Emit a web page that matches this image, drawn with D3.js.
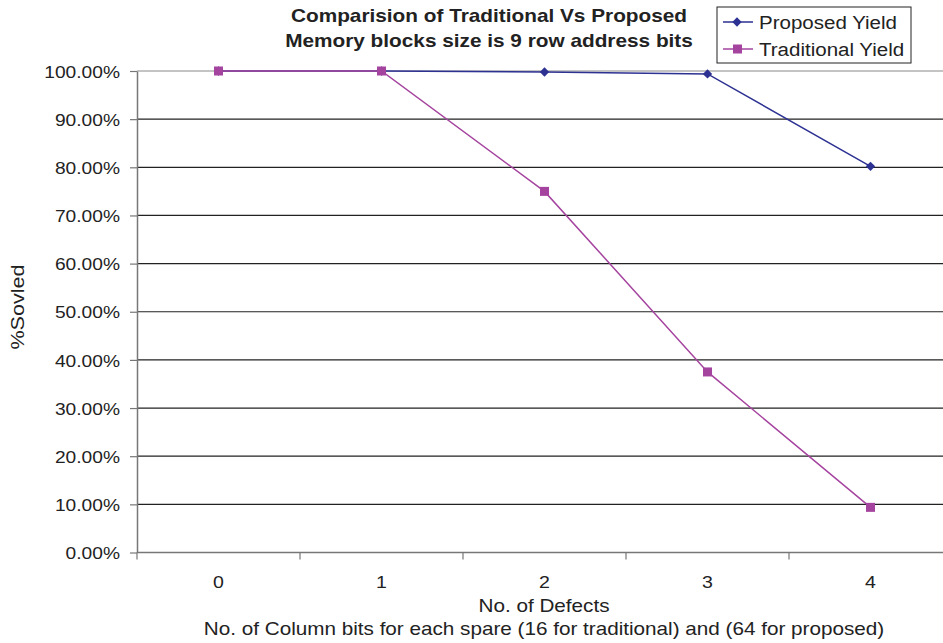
<!DOCTYPE html>
<html>
<head>
<meta charset="utf-8">
<script src="https://cdn.jsdelivr.net/npm/d3@7"></script>
<style>
  html, body { margin: 0; padding: 0; background: #fff; }
  svg { display: block; font-family: "Liberation Sans", Arial, sans-serif; }
</style>
</head>
<body>
<svg id="chart" width="943" height="643"></svg>
<script>
// Number of defects on the x axis
const categories = ["0", "1", "2", "3", "4"];
// Yield (fraction solved) for each scheme
const proposedYield = [1.0, 1.0, 0.998, 0.994, 0.802];
const traditionalYield = [1.0, 1.0, 0.75, 0.375, 0.09375];
const yTicks = [0, 0.1, 0.2, 0.3, 0.4, 0.5, 0.6, 0.7, 0.8, 0.9, 1.0];
const titleLines = ["Comparision of Traditional Vs Proposed", "Memory blocks size is 9 row address bits"];
const seriesNames = ["Proposed Yield", "Traditional Yield"];

const svg = d3.select("#chart");
const m = { left: 137, right: 952, top: 71, bottom: 552.5 };
const ink = "#222";
const SX = 1.15; // horizontal widening of the lettering

// place a text at (x,y), widened horizontally by sx
function label(parent, x, y, str, opts = {}) {
  return parent.append("text")
    .attr("transform", `translate(${x},${y}) scale(${opts.sx || SX},1)`)
    .attr("text-anchor", opts.anchor || "middle")
    .attr("font-size", opts.size || 18)
    .attr("font-weight", opts.weight || "normal")
    .attr("fill", ink).text(str);
}

const x = d3.scaleBand().domain(categories).range([m.left, m.right]);
const y = d3.scaleLinear().domain([0, 1]).range([m.bottom, m.top]);

const blue = "#2D3192";
const magenta = "#A5449F";

// horizontal gridlines
svg.append("g").selectAll("line").data(yTicks.filter(d => d > 0)).join("line")
  .attr("x1", m.left).attr("x2", m.right)
  .attr("y1", d => y(d)).attr("y2", d => y(d))
  .attr("stroke", d => d === 1 ? "#8a8a8a" : "#222").attr("stroke-width", 1.2);

// y axis
const yAxis = d3.axisLeft(y).tickValues(yTicks).tickSize(7).tickSizeOuter(0)
  .tickFormat(d => (d * 100).toFixed(2) + "%");
const gy = svg.append("g").attr("transform", `translate(${m.left},0)`).call(yAxis);
gy.select(".domain").attr("stroke", "#777").attr("stroke-width", 1.5);
gy.selectAll(".tick line").attr("stroke", "#777").attr("stroke-width", 1.2);
gy.selectAll(".tick text")
  .attr("x", 0).attr("dy", "0.36em")
  .attr("transform", "translate(-17,0) scale(1.13,1)")
  .attr("font-size", 17).attr("fill", ink)
  .attr("font-family", "Liberation Sans, Arial, sans-serif");

// x axis: ticks sit between categories
const gx = svg.append("g");
gx.append("line").attr("x1", m.left).attr("x2", m.right)
  .attr("y1", m.bottom).attr("y2", m.bottom)
  .attr("stroke", "#777").attr("stroke-width", 1.5);
const boundaries = categories.map(c => x(c)).concat([x(categories[categories.length - 1]) + x.bandwidth()]);
gx.selectAll("line.tk").data(boundaries).join("line").attr("class", "tk")
  .attr("x1", d => d).attr("x2", d => d)
  .attr("y1", m.bottom).attr("y2", m.bottom + 7)
  .attr("stroke", "#777").attr("stroke-width", 1.2);
categories.forEach(c => label(gx, x(c) + x.bandwidth() / 2, 588, c, { size: 17 }));

// axis titles
label(svg, 544, 612, "No. of Defects");
label(svg, 544, 635, "No. of Column bits for each spare (16 for traditional) and (64 for proposed)");
svg.append("text").attr("transform", "translate(24,307) rotate(-90) scale(1.2,1)")
  .attr("text-anchor", "middle").attr("font-size", 18).attr("fill", ink).text("%Sovled");

// title
titleLines.forEach((t, i) => label(svg, 489, 22 + i * 25, t, { weight: "bold", sx: 1.155 }));

// series
const cx = c => x(c) + x.bandwidth() / 2;
const line = d3.line().x(d => cx(d.c)).y(d => y(d.v));
const propData = categories.map((c, i) => ({ c, v: proposedYield[i] }));
const tradData = categories.map((c, i) => ({ c, v: traditionalYield[i] }));

svg.append("path").datum(propData).attr("d", line)
  .attr("fill", "none").attr("stroke", blue).attr("stroke-width", 1.5);
svg.append("path").datum(tradData).attr("d", line)
  .attr("fill", "none").attr("stroke", magenta).attr("stroke-width", 1.5);

// diamond marker: a square turned 45 degrees
const D = 6.6;
function diamondAt(parent, px, py, color) {
  parent.append("rect")
    .attr("x", -D / 2).attr("y", -D / 2).attr("width", D).attr("height", D)
    .attr("transform", `translate(${px},${py}) rotate(45)`)
    .attr("fill", color);
}
const pm = svg.append("g");
propData.forEach(d => diamondAt(pm, cx(d.c), y(d.v), blue));
svg.append("g").selectAll("rect").data(tradData).join("rect")
  .attr("x", d => cx(d.c) - 4.5).attr("y", d => y(d.v) - 4.5)
  .attr("width", 9).attr("height", 9).attr("fill", magenta);

// legend
const lg = svg.append("g").attr("transform", "translate(717,7)");
lg.append("rect").attr("x", 0).attr("y", 0).attr("width", 194).attr("height", 56)
  .attr("fill", "#fff").attr("stroke", "#222").attr("stroke-width", 1);
const colors = [blue, magenta];
seriesNames.forEach((name, i) => {
  const ly = 15 + i * 27;
  lg.append("line").attr("x1", 6).attr("x2", 36).attr("y1", ly).attr("y2", ly)
    .attr("stroke", colors[i]).attr("stroke-width", 1.5);
  if (i === 0) {
    diamondAt(lg, 20, ly, colors[i]);
  } else {
    lg.append("rect").attr("x", 16).attr("y", ly - 4.5).attr("width", 9).attr("height", 9).attr("fill", colors[i]);
  }
  label(lg, 42, ly + 7, name, { anchor: "start", size: 19, sx: 1.08 });
});
</script>
</body>
</html>
